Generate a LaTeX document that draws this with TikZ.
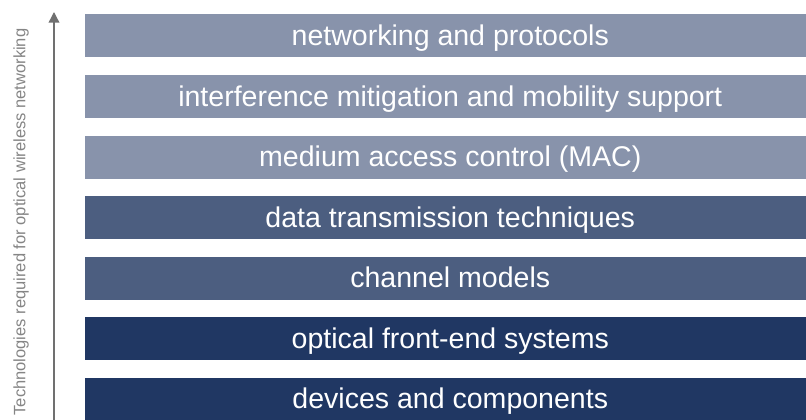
\documentclass[tikz,border=0pt]{standalone}
\usepackage{fontspec}
\setmainfont{Liberation Sans}
\usetikzlibrary{arrows.meta}
\definecolor{barlight}{HTML}{8893AB}
\definecolor{barmid}{HTML}{4C5E80}
\definecolor{bardark}{HTML}{203763}
\definecolor{axisgray}{HTML}{707070}
\definecolor{labelgray}{HTML}{858585}
\tikzset{
  layer/.style={fill=#1, draw=none, text=white, minimum width=730*0.75pt, minimum height=43*0.75pt,
    inner sep=0pt, anchor=north west, text height=16pt, text depth=1.75pt,
    font=\fontsize{21.4}{24}\selectfont},
  axisline/.style={draw=axisgray, line width=1.1pt, -{Triangle[length=8pt,width=8pt]}},
  sidelabel/.style={text=labelgray, font=\fontsize{12.4}{14}\selectfont, rotate=90}
}
\begin{document}
\begin{tikzpicture}[x=0.75pt,y=-0.75pt]
\useasboundingbox (0,0) rectangle (806,419);
\begin{scope}
\clip (0,0) rectangle (806,419);
\node[layer=barlight] (l1) at (85,14) {networking and protocols};
\node[layer=barlight] (l2) at (85,75) {interference mitigation and mobility support};
\node[layer=barlight] (l3) at (85,135.5) {medium access control (MAC)};
\node[layer=barmid] (l4) at (85,196) {data transmission techniques};
\node[layer=barmid] (l5) at (85,256.5) {channel models};
\node[layer=bardark] (l6) at (85,317) {optical front-end systems};
\node[layer=bardark] (l7) at (85,377.5) {devices and components};
\end{scope}
\coordinate (abot) at (54,420);
\coordinate (atop) at (54,12);
\draw[axisline] (abot) -- (atop);
\node[sidelabel] (side) at (21,222) {Technologies required for optical wireless networking};
\end{tikzpicture}
\end{document}
